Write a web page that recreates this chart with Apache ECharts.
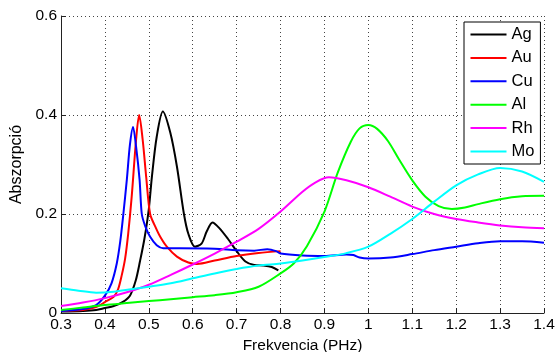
<!DOCTYPE html>
<html><head><meta charset="utf-8">
<script src="https://cdn.jsdelivr.net/npm/echarts@6/dist/echarts.min.js"></script>
<style>html,body{margin:0;padding:0;background:#fff}#c{width:558px;height:352px}</style>
</head><body><div id="c"></div>
<script>
var xTicks = [0.3,0.4,0.5,0.6,0.7,0.8,0.9,1.0,1.1,1.2,1.3,1.4];
var yTicks = [0,0.2,0.4,0.6];
var seriesNames = ['Ag','Au','Cu','Al','Rh','Mo'];

var agF = [0.3,0.35,0.38,0.4,0.42,0.44,0.457,0.47,0.48,0.49,0.5,0.507,0.518,0.532,0.549,0.564,0.58,0.59,0.605,0.62,0.632,0.645,0.66,0.68,0.7,0.72,0.74,0.76,0.78,0.795];
var agV = [0.003,0.004,0.006,0.01,0.014,0.022,0.035,0.065,0.105,0.15,0.21,0.275,0.356,0.407,0.364,0.296,0.2,0.16,0.134,0.14,0.165,0.183,0.172,0.15,0.125,0.104,0.097,0.096,0.093,0.086];

var auF = [0.3,0.35,0.38,0.4,0.42,0.43,0.438,0.446,0.453,0.461,0.471,0.478,0.486,0.494,0.503,0.515,0.526,0.541,0.564,0.59,0.61,0.65,0.7,0.75,0.8];
var auV = [0.004,0.006,0.012,0.022,0.033,0.048,0.075,0.11,0.16,0.235,0.35,0.4,0.35,0.275,0.2,0.174,0.154,0.134,0.114,0.102,0.099,0.106,0.115,0.121,0.125];

var cuF = [0.3,0.35,0.38,0.4,0.415,0.427,0.435,0.442,0.45,0.457,0.464,0.471,0.479,0.484,0.492,0.503,0.518,0.533,0.57,0.65,0.7,0.74,0.77,0.79,0.8,0.85,0.9,0.95,0.966,0.98,1.0,1.05,1.1,1.15,1.2,1.25,1.3,1.35,1.4];
var cuV = [0.004,0.008,0.016,0.035,0.06,0.1,0.145,0.2,0.27,0.34,0.376,0.336,0.269,0.2,0.175,0.154,0.137,0.131,0.131,0.13,0.127,0.126,0.129,0.125,0.12,0.116,0.115,0.118,0.117,0.112,0.11,0.112,0.119,0.127,0.134,0.141,0.145,0.145,0.142];

var alF = [0.3,0.35,0.4,0.45,0.5,0.55,0.6,0.65,0.7,0.75,0.8,0.83,0.86,0.9,0.93,0.96,0.98,1.0,1.02,1.045,1.07,1.1,1.13,1.16,1.19,1.22,1.25,1.3,1.35,1.4];
var alV = [0.006,0.011,0.016,0.02,0.024,0.028,0.032,0.036,0.042,0.053,0.08,0.1,0.135,0.205,0.283,0.346,0.373,0.38,0.372,0.347,0.31,0.268,0.235,0.216,0.21,0.213,0.22,0.23,0.236,0.237];

var rhF = [0.3,0.35,0.4,0.45,0.5,0.55,0.6,0.65,0.7,0.75,0.8,0.85,0.88,0.91,0.95,1.0,1.05,1.1,1.15,1.2,1.25,1.3,1.35,1.4];
var rhV = [0.014,0.021,0.03,0.042,0.057,0.077,0.098,0.12,0.144,0.17,0.205,0.245,0.264,0.274,0.268,0.254,0.235,0.215,0.2,0.19,0.183,0.177,0.173,0.171];

var moF = [0.3,0.34,0.38,0.42,0.46,0.5,0.55,0.6,0.65,0.7,0.75,0.8,0.85,0.9,0.95,1.0,1.05,1.1,1.15,1.2,1.25,1.3,1.35,1.4];
var moV = [0.05,0.045,0.041,0.043,0.048,0.053,0.06,0.07,0.08,0.089,0.096,0.1,0.106,0.113,0.121,0.134,0.16,0.19,0.225,0.258,0.28,0.293,0.286,0.265];

var colors = ['#000000','#ff0000','#0000ff','#00ff00','#ff00ff','#00ffff'];
var allF = [agF,auF,cuF,alF,rhF,moF];
var allV = [agV,auV,cuV,alV,rhV,moV];

function pairs(f,v){ return f.map(function(x,i){ return [x, v[i]]; }); }

var font = 'Liberation Sans, Arial, sans-serif';
var series = seriesNames.map(function(n,i){
  return {
    name: n, type: 'line', data: pairs(allF[i], allV[i]),
    smooth: 0.3, symbol: 'none', showSymbol: false,
    lineStyle: { color: colors[i], width: 2 },
    itemStyle: { color: colors[i] },
    z: 3
  };
});

var chart = echarts.init(document.getElementById('c'), null, {renderer:'canvas'});
chart.setOption({
  animation: false,
  backgroundColor: '#fff',
  grid: { left: 61, right: 14, top: 16, bottom: 39, containLabel: false, outerBoundsMode: 'none' },
  legend: {
    orient: 'vertical', left: 464, top: 22,
    data: seriesNames,
    itemWidth: 36, itemHeight: 16, itemGap: 6.4,
    padding: [4, 6, 4, 6.5],
    backgroundColor: '#fff', borderColor: '#000', borderWidth: 1,
    textStyle: { fontFamily: font, fontSize: 16.5, color: '#000' },
    icon: 'path://M0,7 L36,7 L36,9 L0,9 Z'
  },
  xAxis: {
    type: 'value', min: 0.3, max: 1.4, interval: 0.1,
    name: 'Frekvencia (PHz)', nameLocation: 'middle', nameGap: 21,
    nameTextStyle: { fontFamily: font, fontSize: 15.5, color: '#000' },
    axisLine: { show: true, lineStyle: { color: '#222', width: 1 } },
    axisTick: { show: true, inside: true, length: 5, lineStyle: { color: '#222' } },
    axisLabel: { fontFamily: font, fontSize: 15.5, color: '#000', margin: 4,
      formatter: function(v){ return String(Math.round(v*10)/10); } },
    splitLine: { show: true, lineStyle: { color: '#444', type: [1,3], width: 1 } }
  },
  yAxis: {
    type: 'value', min: 0, max: 0.6, interval: 0.2,
    name: 'Abszorpció', nameLocation: 'middle', nameGap: 32,
    nameTextStyle: { fontFamily: font, fontSize: 16, color: '#000' },
    axisLine: { show: true, lineStyle: { color: '#222', width: 1 } },
    axisTick: { show: true, inside: true, length: 5, lineStyle: { color: '#222' } },
    axisLabel: { fontFamily: font, fontSize: 15.5, color: '#000', margin: 4,
      formatter: function(v){ return String(Math.round(v*10)/10); } },
    splitLine: { show: true, lineStyle: { color: '#444', type: [1,3], width: 1 } }
  },
  series: series
});
</script></body></html>
